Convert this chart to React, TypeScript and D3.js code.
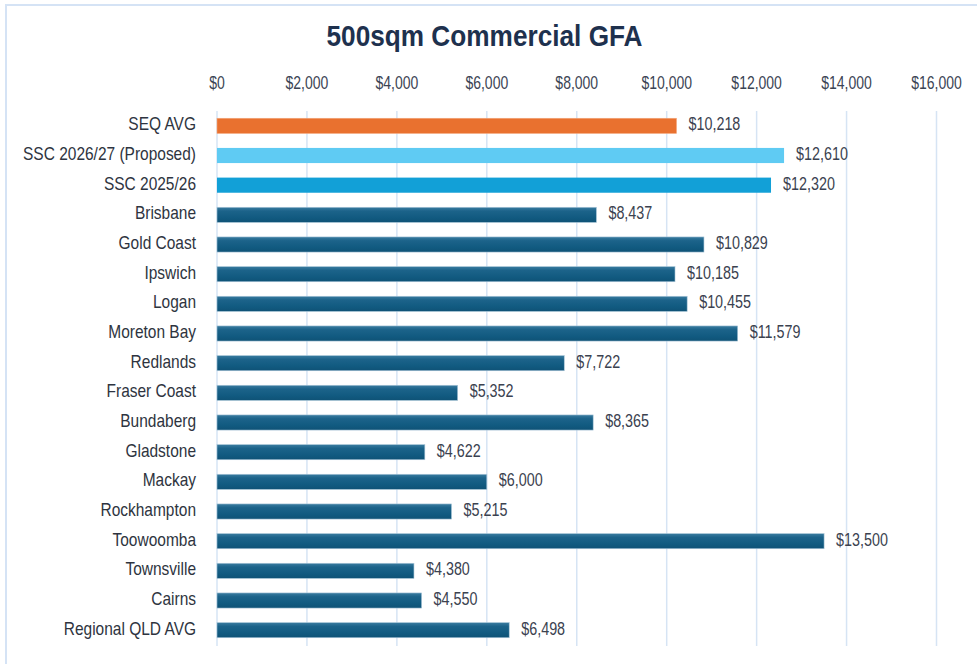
import React from "react";
import * as d3 from "d3";

const categories = [
  "SEQ AVG",
  "SSC 2026/27 (Proposed)",
  "SSC 2025/26",
  "Brisbane",
  "Gold Coast",
  "Ipswich",
  "Logan",
  "Moreton Bay",
  "Redlands",
  "Fraser Coast",
  "Bundaberg",
  "Gladstone",
  "Mackay",
  "Rockhampton",
  "Toowoomba",
  "Townsville",
  "Cairns",
  "Regional QLD AVG",
];
const values = [
  10218, 12610, 12320, 8437, 10829, 10185, 10455, 11579, 7722, 5352, 8365,
  4622, 6000, 5215, 13500, 4380, 4550, 6498,
];
const ticks = [0, 2000, 4000, 6000, 8000, 10000, 12000, 14000, 16000];
const title = "500sqm Commercial GFA";

const W = 977;
const H = 664;
const font = "'Liberation Sans', Arial, sans-serif";

function NText(props: {
  x: number;
  y: number;
  anchor?: "start" | "middle" | "end";
  size: number;
  sx: number;
  fill: string;
  children: React.ReactNode;
}) {
  return (
    <text
      transform={`translate(${props.x},${props.y}) scale(${props.sx},1)`}
      textAnchor={props.anchor || "start"}
      dominantBaseline="middle"
      fontSize={props.size}
      fill={props.fill}
    >
      {props.children}
    </text>
  );
}

export default function App() {
  const x = d3.scaleLinear().domain([0, 16000]).range([217, 936.5]);
  const y = d3
    .scaleBand<string>()
    .domain(categories)
    .range([111, 645])
    .paddingInner(0.49)
    .paddingOuter(0.245);
  const fmt = (v: number) => "$" + d3.format(",")(v);
  const colorFor = (i: number) =>
    i === 0 ? "#E9712F" : i === 1 ? "#5FCBF3" : i === 2 ? "#12A0D7" : "url(#navyGrad)";

  return (
    <svg
      width={W}
      height={H}
      style={{ position: "absolute", left: 0, top: 0, background: "#fff" }}
      fontFamily={font}
    >
      <defs>
        <linearGradient id="navyGrad" x1="0" y1="0" x2="0" y2="1">
          <stop offset="0" stopColor="#3a7ca0" />
          <stop offset="0.25" stopColor="#1c638a" />
          <stop offset="0.7" stopColor="#115a80" />
          <stop offset="1" stopColor="#0f5276" />
        </linearGradient>
      </defs>
      <rect x={6} y={5} width={W} height={H} fill="#fff" stroke="#d5e3f5" strokeWidth={2} />
      <text
        x={326.5}
        y={46}
        textLength={316}
        lengthAdjust="spacingAndGlyphs"
        fontSize={30}
        fontWeight="bold"
        fill="#1e314e"
      >
        {title}
      </text>
      {ticks.map((t) => (
        <g key={t}>
          <line x1={x(t)} x2={x(t)} y1={111} y2={646} stroke="#d6e4f4" strokeWidth={1.5} />
          <NText x={x(t)} y={84} anchor="middle" size={17.5} sx={0.8} fill="#3b4454">
            {fmt(t)}
          </NText>
        </g>
      ))}
      {categories.map((c, i) => {
        const by = y(c)!;
        const bh = y.bandwidth();
        return (
          <g key={c}>
            <NText x={196} y={by + bh / 2} anchor="end" size={17.5} sx={0.885} fill="#2e3440">
              {c}
            </NText>
            <rect
              x={x(0)}
              y={by}
              width={x(values[i]) - x(0)}
              height={bh}
              fill={colorFor(i)}
              stroke={i >= 3 ? "#a9c6d8" : i === 0 ? "#f3a57a" : "none"}
              strokeWidth={0.6}
            />
            <NText x={x(values[i]) + 12} y={by + bh / 2} size={17.5} sx={0.82} fill="#3b4250">
              {fmt(values[i])}
            </NText>
          </g>
        );
      })}
    </svg>
  );
}
